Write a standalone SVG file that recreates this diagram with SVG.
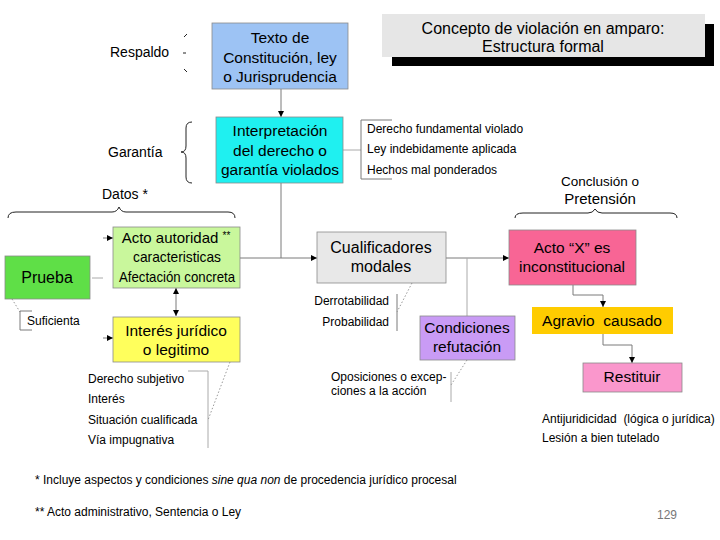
<svg xmlns="http://www.w3.org/2000/svg" width="720" height="540" viewBox="0 0 720 540">
<defs>
<marker id="ah" viewBox="0 0 10 10" refX="10" refY="5" markerWidth="6" markerHeight="6" orient="auto-start-reverse" markerUnits="userSpaceOnUse">
<path d="M0,0 L10,5 L0,10 z" fill="#000"/>
</marker>
<style>
text{font-family:"Liberation Sans",Arial,sans-serif;fill:#000}
.big{font-size:15.5px}
.mid{font-size:14px}
.sm{font-size:12px}
.c{text-anchor:middle}
.r{text-anchor:end}
.box{stroke:#8a8a8a;stroke-width:0.8}
.ln{fill:none;stroke:#7a7a7a;stroke-width:1}
.lt{fill:none;stroke:#aaaaaa;stroke-width:1}
.dot{fill:none;stroke:#999;stroke-width:1;stroke-dasharray:1.5 2}
.br{fill:none;stroke:#222;stroke-width:1}
</style>
</defs>
<rect width="720" height="540" fill="#fff"/>

<g id="title">
<rect x="392" y="24" width="322" height="42" fill="#000"/>
<rect x="382" y="14" width="323" height="43" fill="#e6e6e6"/>
<text x="543" y="34" class="c" font-size="16">Concepto de violación en amparo:</text>
<text x="543" y="52" class="c" font-size="16">Estructura formal</text>
</g>

<g id="connectors">
<line x1="281" y1="89" x2="281" y2="117" class="ln" marker-end="url(#ah)"/>
<line x1="343" y1="150" x2="361" y2="150" class="lt"/>
<polyline points="392,120 361,120 361,179 392,179" class="ln"/>
<polyline points="281,183 281,258" class="ln"/>
<line x1="240" y1="258" x2="317" y2="258" class="ln" marker-end="url(#ah)"/>
<line x1="446" y1="258" x2="509" y2="258" class="ln" marker-end="url(#ah)"/>
<line x1="467" y1="258" x2="467" y2="316" class="lt"/>
<line x1="103" y1="238" x2="113" y2="238" class="ln" marker-end="url(#ah)"/>
<line x1="92" y1="278" x2="103" y2="278" class="lt"/>
<line x1="103" y1="338" x2="113" y2="338" class="ln" marker-end="url(#ah)"/>
<line x1="176" y1="288" x2="176" y2="316" class="ln" marker-start="url(#ah)" marker-end="url(#ah)"/>
<polyline points="573,285 573,295 603,295 603,307" class="ln" marker-end="url(#ah)"/>
<polyline points="603,334 603,345 632,345 632,363" class="ln" marker-end="url(#ah)"/>
<line x1="12" y1="299" x2="20" y2="312" class="dot"/>
<polyline points="32,311 20,311 20,330 32,330" class="ln"/>
<polyline points="188,371 208,371 208,448" class="lt"/>
<line x1="230" y1="362" x2="208" y2="420" class="dot"/>
<line x1="397" y1="294" x2="397" y2="331" class="ln"/>
<line x1="412" y1="283" x2="397" y2="312" class="dot"/>
<line x1="451" y1="372" x2="451" y2="402" class="lt"/>
<line x1="467" y1="360" x2="451" y2="385" class="dot"/>
</g>

<g id="braces">
<path d="M187,34 L184,37 M183,53 L186,53 M184,69 L187,72" class="br" stroke="#555"/>
<path d="M192,122 Q186,122 186,128 L186,146 Q186,152 181,152 Q186,152 186,158 L186,177 Q186,183 192,183" class="br"/>
<path d="M8,218 Q8,212 16,212 L112,212 Q117,212 119,207 Q121,212 126,212 L228,212 Q235,212 235,218" class="br"/>
<path d="M515,218 Q515,213 523,213 L588,213 Q593,213 595,209 Q597,213 602,213 L670,213 Q677,213 677,218" class="br"/>
</g>

<g id="respaldo"><text x="110" y="57" class="mid">Respaldo</text></g>
<g id="garantia"><text x="108" y="157" class="mid">Garantía</text></g>
<g id="datos"><text x="102" y="199" class="mid">Datos *</text></g>

<g id="texto">
<rect x="212" y="23" width="136" height="66" fill="#9dc3f4" class="box"/>
<text x="280" y="43" class="big c">Texto de</text>
<text x="280" y="63" class="big c">Constitución, ley</text>
<text x="280" y="82" class="big c">o Jurisprudencia</text>
</g>

<g id="interpretacion">
<rect x="216" y="117" width="127" height="66" fill="#1ff0f0" class="box"/>
<text x="280" y="136" class="big c">Interpretación</text>
<text x="280" y="156" class="big c">del derecho o</text>
<text x="280" y="175" class="big c">garantía violados</text>
</g>

<g id="garantia-lista">
<text x="367" y="133" class="sm">Derecho fundamental violado</text>
<text x="367" y="153" class="sm">Ley indebidamente aplicada</text>
<text x="367" y="174" class="sm">Hechos mal ponderados</text>
</g>

<g id="prueba">
<rect x="5" y="256" width="85" height="43" fill="#5fdf47" class="box"/>
<text x="47" y="283" class="c" font-size="16">Prueba</text>
</g>
<g id="suficienta"><text x="27" y="325" class="sm">Suficienta</text></g>

<g id="acto-autoridad">
<rect x="113" y="227" width="127" height="61" fill="#c9f79c" class="box"/>
<text x="176" y="243" class="c" font-size="15">Acto autoridad <tspan font-size="10" dy="-4">**</tspan></text>
<text x="177" y="262" class="c" font-size="15" textLength="88" lengthAdjust="spacingAndGlyphs">caracteristicas</text>
<text x="177" y="282" class="c" font-size="15" textLength="116" lengthAdjust="spacingAndGlyphs">Afectación concreta</text>
</g>

<g id="interes">
<rect x="113" y="317" width="127" height="45" fill="#ffff5c" class="box"/>
<text x="176" y="336" class="big c">Interés jurídico</text>
<text x="176" y="355" class="big c">o legitimo</text>
</g>

<g id="interes-lista">
<text x="88" y="383" class="sm">Derecho subjetivo</text>
<text x="88" y="403" class="sm">Interés</text>
<text x="88" y="424" class="sm">Situación cualificada</text>
<text x="88" y="444" class="sm">Vía impugnativa</text>
</g>

<g id="cualificadores">
<rect x="317" y="232" width="129" height="51" fill="#e8e8e8" class="box"/>
<text x="381" y="253" class="c" font-size="16">Cualificadores</text>
<text x="381" y="272" class="c" font-size="16">modales</text>
</g>
<g id="cualificadores-lista">
<text x="389" y="305" class="sm r">Derrotabilidad</text>
<text x="389" y="326" class="sm r">Probabilidad</text>
</g>

<g id="condiciones">
<rect x="420" y="316" width="95" height="44" fill="#c99bf5" class="box"/>
<text x="467" y="333" class="big c">Condiciones</text>
<text x="467" y="352" class="big c">refutación</text>
</g>
<g id="oposiciones">
<text x="331" y="381" class="sm">Oposiciones o excep-</text>
<text x="331" y="395" class="sm">ciones a la acción</text>
</g>

<g id="conclusion">
<text x="600" y="186" class="c" font-size="13.5">Conclusión o</text>
<text x="600" y="204" class="c" font-size="15">Pretensión</text>
</g>

<g id="acto-x">
<rect x="509" y="230" width="127" height="55" fill="#f86595" class="box"/>
<text x="572" y="253" class="big c">Acto “X” es</text>
<text x="572" y="272" class="big c">inconstitucional</text>
</g>

<g id="agravio">
<rect x="532" y="307" width="141" height="27" fill="#ffcc00"/>
<text x="602" y="326" class="big c" xml:space="preserve">Agravio  causado</text>
</g>

<g id="restituir">
<rect x="583" y="363" width="99" height="29" fill="#fa97cc" class="box"/>
<text x="632" y="382" class="big c">Restituir</text>
</g>
<g id="restituir-lista">
<text x="542" y="423" class="sm" xml:space="preserve">Antijuridicidad  (lógica o jurídica)</text>
<text x="542" y="442" class="sm">Lesión a bien tutelado</text>
</g>

<g id="notas">
<text x="35" y="484" class="sm">* Incluye aspectos y condiciones <tspan font-style="italic">sine qua non</tspan> de procedencia jurídico procesal</text>
<text x="35" y="516" class="sm">** Acto administrativo, Sentencia o Ley</text>
<text x="667" y="519" class="sm c" style="fill:#777">129</text>
</g>
</svg>
